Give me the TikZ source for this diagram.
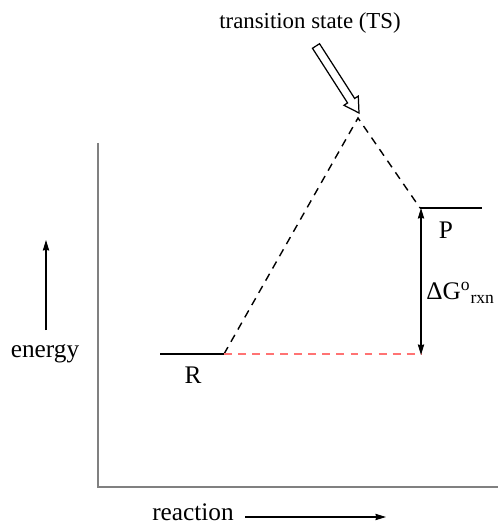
\documentclass[tikz,border=0pt]{standalone}
\usepackage{fontspec}
\setmainfont{Liberation Serif}
\usetikzlibrary{arrows.meta}

\begin{document}
\begin{tikzpicture}[
    x=0.02cm, y=-0.02cm,
    lbl/.style={font=\fontsize{14.4}{17}\selectfont, inner sep=0pt},
    axis/.style={draw=black!50, line width=1.1pt},
    level/.style={line width=1.6pt},
    path/.style={dashed, dash pattern=on 4.5pt off 3.5pt, line width=0.8pt},
    tip/.style={-{Stealth[length=6pt, width=3.6pt, inset=0.5pt]}, line width=0.7pt},
    tips/.style={{Stealth[length=6pt, width=3.6pt, inset=0.5pt]}-{Stealth[length=6pt, width=3.6pt, inset=0.5pt]}, line width=0.7pt}
]
    \useasboundingbox (0,0) rectangle (498,523);

    % Axes
    \coordinate (ytop) at (98,143);
    \coordinate (org) at (98,487);
    \coordinate (xend) at (498,487);
    \draw[axis] (ytop) -- (org) -- (xend);

    % Energy levels
    \coordinate (r1) at (160,354);
    \coordinate (r2) at (224,354);
    \coordinate (ts) at (358,118);
    \coordinate (p1) at (420,208);
    \coordinate (p2) at (482,208);
    \coordinate (pr) at (422,354);
    \draw[level] (r1) -- (r2);
    \draw[level] (p1) -- (p2);
    \draw[path] (r2) -- (ts) -- (p1);
    \draw[path, draw=red!55] (r2) -- (pr);
    \coordinate (dgtop) at (421,208);
    \coordinate (dgbot) at (421,355);
    \draw[tips] (dgtop) -- (dgbot);

    \node[lbl] (R) at (193,375) {R};
    \node[lbl] (P) at (446,230) {P};
    \node[lbl, anchor=west] (dG) at (426,293) {ΔG\textsuperscript{o}\textsubscript{rxn}};

    % Transition state pointer
    \node[lbl, font=\fontsize{13}{16}\selectfont] (tslbl) at (310,23) {transition state (TS)};
    \coordinate (tail) at (316,46);
    \begin{scope}[shift={(tail)}, rotate=-57.3]
        \draw[line width=0.7pt, fill=white]
            (0,4.2) -- (65,4.2) -- (65,8.5) -- (79.6,0) -- (65,-8.5) -- (65,-4.2) -- (0,-4.2) -- cycle;
    \end{scope}

    % Axis labels
    \node[lbl] (energy) at (45,354) {energy};
    \coordinate (e1) at (46,330);
    \coordinate (e2) at (46,240);
    \draw[tip] (e1) -- (e2);

    \node[lbl, anchor=base] (reaction) at (193,520) {reaction};
    \coordinate (x1) at (245,517);
    \coordinate (x2) at (386,517);
    \draw[tip] (x1) -- (x2);
\end{tikzpicture}
\end{document}
